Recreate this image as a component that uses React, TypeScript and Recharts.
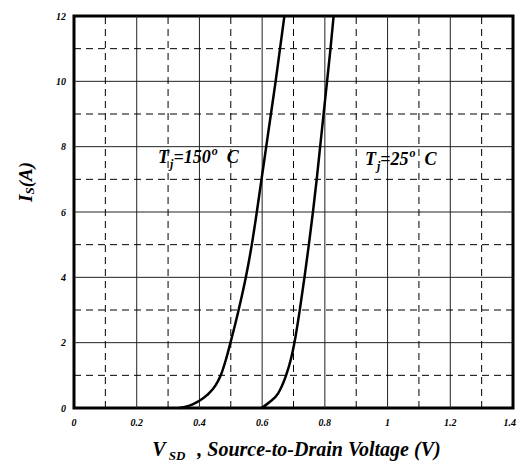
import React from "react";
import {
  LineChart,
  Line,
  XAxis,
  YAxis,
  ReferenceLine,
  ReferenceArea,
  ReferenceDot,
} from "recharts";

const xTicks = [0, 0.2, 0.4, 0.6, 0.8, 1, 1.2, 1.4];
const yTicks = [0, 2, 4, 6, 8, 10, 12];
const xMajor = [0.2, 0.4, 0.6, 0.8, 1, 1.2];
const yMajor = [2, 4, 6, 8, 10];
const xMinor = [0.1, 0.3, 0.5, 0.7, 0.9, 1.1, 1.3];
const yMinor = [1, 3, 5, 7, 9, 11];

// Tj = 150 C
const vsdHot = [0.335, 0.36, 0.38, 0.4, 0.425, 0.452, 0.468, 0.485, 0.499, 0.525, 0.548, 0.567, 0.583, 0.598, 0.613, 0.628, 0.643, 0.657, 0.671];
const isHot = [0, 0.05, 0.12, 0.22, 0.4, 0.7, 1, 1.5, 2, 3, 4, 5, 6, 7, 8, 9, 10, 11, 12];

// Tj = 25 C
const vsdCold = [0.598, 0.625, 0.651, 0.676, 0.691, 0.703, 0.72, 0.735, 0.749, 0.762, 0.774, 0.785, 0.796, 0.807, 0.818, 0.828];
const isCold = [0, 0.19, 0.45, 0.99, 1.47, 2, 3, 4, 5, 6, 7, 8, 9, 10, 11, 12];

const hot = vsdHot.map((v, i) => ({ v, i: isHot[i] }));
const cold = vsdCold.map((v, i) => ({ v, i: isCold[i] }));

const FONT = "'Liberation Serif', 'Times New Roman', serif";

const textStyle = {
  fontFamily: FONT,
  fontWeight: "bold" as const,
  fontStyle: "italic" as const,
  fill: "#000",
};

function TempLabel({ viewBox, temp }: any) {
  const x = viewBox.x + viewBox.width / 2;
  const y = viewBox.y + viewBox.height / 2;
  return (
    <text x={x} y={y} fontSize={18} {...textStyle}>
      T
      <tspan dx={1} dy={5} fontSize={12}>j</tspan>
      <tspan dy={-5}>{"=" + temp}</tspan>
      <tspan dx={1} dy={-8} fontSize={12}>o</tspan>
      <tspan dx={9} dy={8}>C</tspan>
    </text>
  );
}

function YTitle({ viewBox }: any) {
  const x = viewBox.x + 25;
  const y = viewBox.y + viewBox.height / 2 - 30;
  return (
    <text
      x={x}
      y={y}
      transform={`rotate(-90, ${x}, ${y})`}
      textAnchor="middle"
      dominantBaseline="central"
      fontSize={19}
      {...textStyle}
    >
      I<tspan dy={4} fontSize={13}>S</tspan>
      <tspan dy={-4}>(A)</tspan>
    </text>
  );
}

function XTitle({ viewBox }: any) {
  const x = viewBox.x + viewBox.width / 2 + 3;
  const y = viewBox.y + 48;
  return (
    <text x={x} y={y} textAnchor="middle" fontSize={20} {...textStyle}>
      V<tspan dx={3} dy={4} fontSize={13}>SD</tspan>
      <tspan dx={12} dy={-4}>{", Source-to-Drain Voltage (V)"}</tspan>
    </text>
  );
}

const tickStyle = { fontFamily: FONT, fontWeight: "bold", fontStyle: "italic", fontSize: 10, fill: "#000" };

function XTick({ x, y, payload }: any) {
  const last = payload.value === xTicks[xTicks.length - 1];
  return (
    <text
      x={last ? x + 3 : x}
      y={y}
      dy="0.71em"
      textAnchor={last ? "end" : "middle"}
      {...tickStyle}
    >
      {payload.value}
    </text>
  );
}

export default function App() {
  return (
    <div style={{ position: "absolute", left: 0, top: 0, background: "#fff" }}>
      <LineChart width={517} height={464} margin={{ top: 16, right: 4, bottom: 0, left: 0 }}>
        <XAxis
          type="number"
          dataKey="v"
          domain={[0, 1.4]}
          ticks={xTicks}
          axisLine={false}
          tickLine={false}
          tickSize={6}
          tickMargin={5}
          height={56}
          tick={<XTick />}
          interval={0}
          label={{ content: (p: any) => <XTitle {...p} /> }}
        />
        <YAxis
          type="number"
          dataKey="i"
          domain={[0, 12]}
          ticks={yTicks}
          axisLine={false}
          tickLine={false}
          tickSize={6}
          tickMargin={2}
          width={74}
          tick={tickStyle}
          interval={0}
          label={{ content: (p: any) => <YTitle {...p} /> }}
        />
        {xMajor.map((x) => (
          <ReferenceLine key={"xm" + x} x={x} stroke="#222" strokeWidth={1} />
        ))}
        {yMajor.map((y) => (
          <ReferenceLine key={"ym" + y} y={y} stroke="#222" strokeWidth={1} />
        ))}
        {xMinor.map((x) => (
          <ReferenceLine key={"xn" + x} x={x} stroke="#000" strokeWidth={1} strokeDasharray="7 5" />
        ))}
        {yMinor.map((y) => (
          <ReferenceLine key={"yn" + y} y={y} stroke="#000" strokeWidth={1} strokeDasharray="7 5" />
        ))}
        <Line
          data={hot}
          dataKey="i"
          type="monotone"
          stroke="#000"
          strokeWidth={2.5}
          dot={false}
          isAnimationActive={false}
        />
        <Line
          data={cold}
          dataKey="i"
          type="monotone"
          stroke="#000"
          strokeWidth={2.5}
          dot={false}
          isAnimationActive={false}
        />
        <ReferenceArea x1={0} x2={1.4} y1={0} y2={12} fill="none" stroke="#000" strokeWidth={3} />
        <ReferenceDot
          x={0.268}
          y={7.5}
          r={1}
          fill="none"
          stroke="none"
          label={{ content: (p: any) => <TempLabel {...p} temp="150" /> }}
        />
        <ReferenceDot
          x={0.928}
          y={7.44}
          r={1}
          fill="none"
          stroke="none"
          label={{ content: (p: any) => <TempLabel {...p} temp="25" /> }}
        />
      </LineChart>
    </div>
  );
}
